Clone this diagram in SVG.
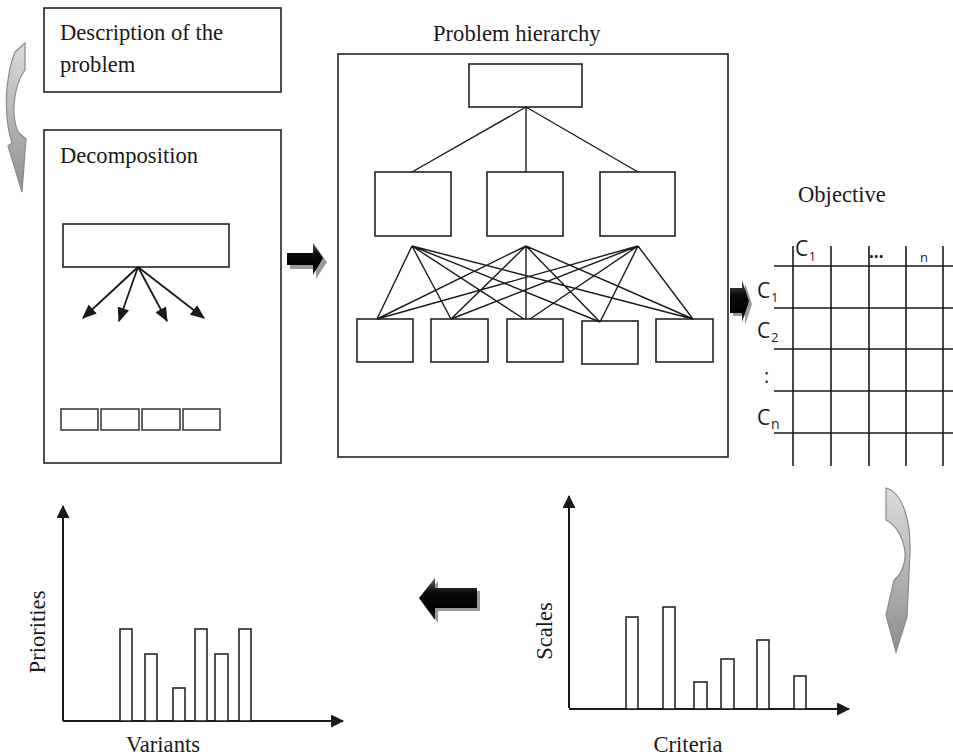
<svg xmlns="http://www.w3.org/2000/svg" width="953" height="756" viewBox="0 0 953 756">
<defs>
<linearGradient id="gCurve" x1="0" y1="0" x2="0" y2="1">
<stop offset="0" stop-color="#dcdcdc"/>
<stop offset="1" stop-color="#8e8e8e"/>
</linearGradient>
<linearGradient id="gBlock" x1="0" y1="0" x2="0" y2="1">
<stop offset="0" stop-color="#5a5a5a"/>
<stop offset="0.35" stop-color="#0a0a0a"/>
<stop offset="0.75" stop-color="#000"/>
<stop offset="1" stop-color="#333"/>
</linearGradient>
<marker id="ah" viewBox="0 0 12 10" refX="11" refY="5" markerWidth="15" markerHeight="12" markerUnits="userSpaceOnUse" orient="auto">
<path d="M0,0 L12,5 L0,10 Z" fill="#1a1a1a"/>
</marker>
<marker id="axh" viewBox="0 0 12 12" refX="11" refY="6" markerWidth="14" markerHeight="13" markerUnits="userSpaceOnUse" orient="auto">
<path d="M0,0 L12,6 L0,12 Z" fill="#1a1a1a"/>
</marker>
</defs>
<style>
.box{fill:#fff;stroke:#222;stroke-width:1.6}
.sbox{fill:none;stroke:#333;stroke-width:1.5}
.ln{stroke:#1a1a1a;stroke-width:1.4;fill:none}
.arr{stroke:#1a1a1a;stroke-width:1.8;fill:none;marker-end:url(#ah)}
.grid{stroke:#1a1a1a;stroke-width:1.6;fill:none}
.axis{stroke:#1a1a1a;stroke-width:2;fill:none}
.bar{fill:#fff;stroke:#1a1a1a;stroke-width:1.5}
.t{font-family:"Liberation Serif","Times New Roman",serif;font-size:22.6px;fill:#1a1a1a}
.s{font-family:"Open Sans","Liberation Sans",sans-serif;fill:#1a1a1a}
.curve{fill:url(#gCurve);stroke:#8a8a8a;stroke-width:1.2}
.blk{fill:url(#gBlock)}
.shd{fill:#9a9a9a}
</style>
<rect width="953" height="756" fill="#fff"/>

<g id="description">
<rect class="box" x="44" y="8" width="237" height="84"/>
<text class="t" x="60" y="40">Description of the</text>
<text class="t" x="60" y="72">problem</text>
</g>

<g id="decomposition">
<rect class="box" x="44" y="130" width="237" height="333"/>
<text class="t" x="60" y="163">Decomposition</text>
<rect class="box" x="63" y="224" width="166" height="43"/>
<rect class="sbox" x="61" y="409" width="37" height="21"/>
<rect class="sbox" x="101" y="409" width="38" height="21"/>
<rect class="sbox" x="142" y="409" width="38" height="21"/>
<rect class="sbox" x="183" y="409" width="37" height="21"/>
</g>

<g id="hierarchy">
<text class="t" x="433" y="41">Problem hierarchy</text>
<rect class="box" x="338" y="54" width="390" height="403"/>
<rect class="box" x="469" y="64" width="113" height="43"/>
<rect class="box" x="375" y="172" width="76" height="64"/>
<rect class="box" x="487" y="172" width="76" height="64"/>
<rect class="box" x="600" y="172" width="75" height="64"/>
<rect class="box" x="357" y="319" width="56" height="43"/>
<rect class="box" x="431" y="319" width="57" height="43"/>
<rect class="box" x="507" y="319" width="56" height="43"/>
<rect class="box" x="582" y="321" width="56" height="43"/>
<rect class="box" x="656" y="319" width="57" height="43"/>
</g>

<g id="objective">
<text class="t" x="798" y="202">Objective</text>
<path class="grid" d="M793,246V466 M831,246V466 M869,246V466 M906,246V466 M943,246V466 M774,266H953 M774,308H953 M774,349H953 M774,391H953 M774,433H953"/>
<text class="s" x="795" y="256" font-size="21">C</text>
<text class="s" x="809" y="261" font-size="12">1</text>
<text class="s" x="869" y="258" font-size="17" font-weight="bold">...</text>
<text class="s" x="920" y="262" font-size="13">n</text>
<text class="s" x="757" y="298" font-size="21">C</text>
<text class="s" x="771" y="302" font-size="13">1</text>
<text class="s" x="757" y="338" font-size="21">C</text>
<text class="s" x="771" y="342" font-size="13">2</text>
<text class="s" x="764" y="383" font-size="20">:</text>
<text class="s" x="757" y="425" font-size="21">C</text>
<text class="s" x="771" y="429" font-size="14">n</text>
</g>

<g id="priorities-chart">
<path class="axis" d="M63,721V506" marker-end="url(#axh)"/>
<path class="axis" d="M63,721H343" marker-end="url(#axh)"/>
<rect class="bar" x="120" y="629" width="12" height="92"/>
<rect class="bar" x="145" y="654" width="12" height="67"/>
<rect class="bar" x="173" y="688" width="12" height="33"/>
<rect class="bar" x="195" y="629" width="12" height="92"/>
<rect class="bar" x="215" y="654" width="13" height="67"/>
<rect class="bar" x="239" y="629" width="12" height="92"/>
<text class="t" transform="translate(45,632) rotate(-90)" text-anchor="middle">Priorities</text>
<text class="t" x="163" y="752" text-anchor="middle">Variants</text>
</g>

<g id="scales-chart">
<path class="axis" d="M569,708V496" marker-end="url(#axh)"/>
<path class="axis" d="M569,709H849" marker-end="url(#axh)"/>
<rect class="bar" x="626" y="617" width="12" height="92"/>
<rect class="bar" x="663" y="607" width="12" height="102"/>
<rect class="bar" x="694" y="682" width="13" height="27"/>
<rect class="bar" x="721" y="659" width="13" height="50"/>
<rect class="bar" x="757" y="640" width="12" height="69"/>
<rect class="bar" x="794" y="676" width="12" height="33"/>
<text class="t" transform="translate(552,631) rotate(-90)" text-anchor="middle">Scales</text>
<text class="t" x="688" y="752" text-anchor="middle">Criteria</text>
</g>

<g id="connectors">
<line class="arr" x1="138" y1="267" x2="83" y2="318"/>
<line class="arr" x1="138" y1="267" x2="119" y2="321"/>
<line class="arr" x1="138" y1="267" x2="167" y2="321"/>
<line class="arr" x1="138" y1="267" x2="204" y2="318"/>
<path class="ln" d="M526,107L412,172 M526,107V172 M526,107L638,172"/>
<path class="ln" d="M412,246L377,319 M412,246L451,319 M412,246L524,319 M412,246L600,322 M412,246L693,319
M526,246L377,319 M526,246L451,319 M526,246V319 M526,246L600,322 M526,246L693,319
M638,246L377,319 M638,246L451,319 M638,246L530,319 M638,246L600,322 M638,246L693,319"/>
<path class="curve" d="M15,52 L25,43 L25,70 C17,80 13,100 14,115 C15,124 17,130 19,133 L26,139 L22,192 L8,146 L12,143 C6,125 5,100 8,80 C10,65 13,57 15,52 Z"/>
<path class="curve" d="M886,488 C902,492 911,520 910,552 L907,617 L896,652 L886,615 L894,580 C902,574 906,562 905,552 C903,537 896,525 886,520 Z"/>
<path class="shd" d="M290,257H316V247L327,262L316,279V269H290Z"/>
<path class="blk" d="M287,253H313V243L323,258L313,275V265H287Z"/>
<path class="shd" d="M733,291H745V283L752,304L745,325V316H733Z"/>
<path class="blk" d="M730,288H742V280L749,301L742,322V313H730Z"/>
<path class="shd" d="M422,601L438,581V591H480V611H438V623Z"/>
<path class="blk" d="M419,598L435,578V588H477V608H435V620Z"/>
</g>
</svg>
